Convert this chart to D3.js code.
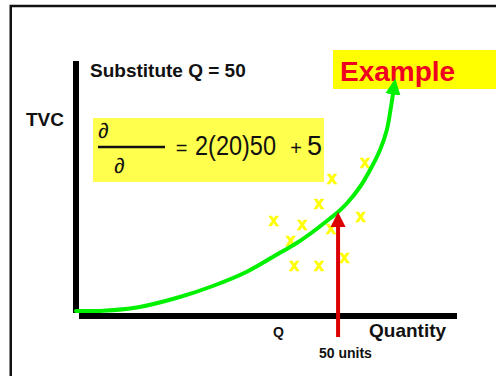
<!DOCTYPE html>
<html>
<head>
<meta charset="utf-8">
<script src="https://cdn.jsdelivr.net/npm/d3@7"></script>
<style>
  html, body { margin: 0; padding: 0; background: #fff; }
  svg { display: block; }
  text { font-family: "Liberation Sans", Arial, sans-serif; }
</style>
</head>
<body>
<script>
// Total variable cost curve (quantity vs TVC)
const curveQ   = [0, 5.2, 11.6, 19.8, 26.1, 32.6, 38.9, 42.2, 45.2, 48.5, 50.0, 51.7, 54.2, 56.1, 58.0, 59.3, 60.0, 60.5];
const curveTVC = [0, 0.1, 1.4, 5.6, 10.0, 15.7, 23.3, 27.3, 31.7, 37.1, 39.6, 43.1, 49.7, 56.4, 64.4, 72.4, 80.4, 87.1];

// Scattered observations around the curve
const obsQ   = [37.8, 43.2, 41.0, 46.4, 48.9, 55.2, 54.4, 48.7, 51.3, 41.7, 46.4];
const obsTVC = [36.1, 34.4, 28.1, 42.8, 52.8, 59.1, 37.7, 32.8, 21.3, 18.0, 18.0];

// Quantity being substituted
const substituteQ = 50;
const qMax = 72.5;
const tvcMax = 100;

const W = 496, H = 376;
const svg = d3.select("body").append("svg").attr("width", W).attr("height", H);

const x = d3.scaleLinear().domain([0, qMax]).range([76, 456]);
const y = d3.scaleLinear().domain([0, tvcMax]).range([311, 61]);

// page frame
svg.append("rect")
  .attr("x", 10.75).attr("y", 6).attr("width", W).attr("height", H)
  .attr("fill", "none").attr("stroke", "#111").attr("stroke-width", 2.5);

// "Example" banner
svg.append("rect").attr("x", 333).attr("y", 50).attr("width", 170).attr("height", 39).attr("fill", "#ffff00");
svg.append("text").attr("x", 340).attr("y", 81)
  .attr("font-size", 28).attr("font-weight", "bold").attr("fill", "#f00020")
  .text("Example");

// axes
svg.append("rect")
  .attr("x", x(0) - 3).attr("y", y(tvcMax)).attr("width", 6).attr("height", y(0) + 2 - y(tvcMax))
  .attr("fill", "#000");
svg.append("rect")
  .attr("x", x(0) + 3).attr("y", y(0) + 2).attr("width", x(qMax) + 1 - (x(0) + 3)).attr("height", 6)
  .attr("fill", "#000");

// axis titles and notes
svg.append("text").attr("x", 26).attr("y", 126)
  .attr("font-size", 19).attr("font-weight", "bold").attr("fill", "#111").text("TVC");
svg.append("text").attr("x", 90).attr("y", 77)
  .attr("font-size", 19).attr("font-weight", "bold").attr("fill", "#111").text("Substitute Q = 50");
svg.append("text").attr("x", 273).attr("y", 337)
  .attr("font-size", 14).attr("font-weight", "bold").attr("fill", "#111").text("Q");
svg.append("text").attr("x", 369).attr("y", 337)
  .attr("font-size", 19).attr("font-weight", "bold").attr("fill", "#111").text("Quantity");
svg.append("text").attr("x", 319).attr("y", 358)
  .attr("font-size", 14).attr("font-weight", "bold").attr("fill", "#111").text("50 units");

// derivative equation box
const narrow = "'Liberation Sans Narrow', 'Arial Narrow', 'Liberation Sans', sans-serif";
const eq = svg.append("g");
eq.append("rect").attr("x", 93).attr("y", 118).attr("width", 231).attr("height", 64).attr("fill", "#ffff4d");
eq.append("text").attr("x", 98).attr("y", 138)
  .attr("font-family", "'Liberation Serif', 'DejaVu Serif', serif").attr("font-style", "italic")
  .attr("font-size", 21).attr("fill", "#111").text("\u2202");
eq.append("line").attr("x1", 98).attr("x2", 165).attr("y1", 147).attr("y2", 147)
  .attr("stroke", "#111").attr("stroke-width", 2.5);
eq.append("text").attr("x", 114).attr("y", 173)
  .attr("font-family", "'Liberation Serif', 'DejaVu Serif', serif").attr("font-style", "italic")
  .attr("font-size", 21).attr("fill", "#111").text("\u2202");
eq.append("text").attr("x", 181.5).attr("y", 155).attr("text-anchor", "middle")
  .attr("font-size", 20).attr("fill", "#111").text("=");
eq.append("text").attr("x", 195).attr("y", 155)
  .attr("font-family", narrow).attr("font-size", 28).attr("fill", "#111")
  .attr("textLength", 81).attr("lengthAdjust", "spacingAndGlyphs").text("2(20)50");
eq.append("text").attr("x", 296).attr("y", 155).attr("text-anchor", "middle")
  .attr("font-size", 20).attr("fill", "#111").text("+");
eq.append("text").attr("x", 307).attr("y", 155)
  .attr("font-family", narrow).attr("font-size", 28).attr("fill", "#111")
  .attr("textLength", 15).attr("lengthAdjust", "spacingAndGlyphs").text("5");

// observation marks
svg.append("g").selectAll("text")
  .data(d3.range(obsQ.length))
  .join("text")
  .attr("x", i => x(obsQ[i]))
  .attr("y", i => y(obsTVC[i]) + 5)
  .attr("text-anchor", "middle")
  .attr("font-size", 18).attr("font-weight", "bold")
  .attr("fill", "#ffff00").attr("stroke", "#ffff00").attr("stroke-width", 0.6)
  .text("x");

// TVC curve with arrowhead
const defs = svg.append("defs");
defs.append("marker")
  .attr("id", "greenHead").attr("markerUnits", "userSpaceOnUse")
  .attr("markerWidth", 16).attr("markerHeight", 16)
  .attr("viewBox", "0 -7 14 14").attr("refX", 1).attr("refY", 0)
  .attr("orient", "auto")
  .append("path").attr("d", "M0,-6.7L14,0L0,6.7Z").attr("fill", "#00f000");

const pts = curveQ.map((q, i) => [x(q), y(curveTVC[i])]);
svg.append("path")
  .attr("d", d3.line().curve(d3.curveCatmullRom.alpha(0.5))(pts))
  .attr("fill", "none").attr("stroke", "#00f000").attr("stroke-width", 4)
  .attr("stroke-linecap", "round")
  .attr("marker-end", "url(#greenHead)");

// pointer at Q = 50 up to the curve
const idx = curveQ.indexOf(substituteQ);
const tipY = y(curveTVC[idx]);
const ax = x(substituteQ);
svg.append("line")
  .attr("x1", ax).attr("x2", ax).attr("y1", 337).attr("y2", tipY + 12)
  .attr("stroke", "#dd0000").attr("stroke-width", 4);
svg.append("path")
  .attr("d", `M${ax - 7.5},${tipY + 15}L${ax},${tipY}L${ax + 7.5},${tipY + 15}Z`)
  .attr("fill", "#dd0000");
</script>
</body>
</html>
